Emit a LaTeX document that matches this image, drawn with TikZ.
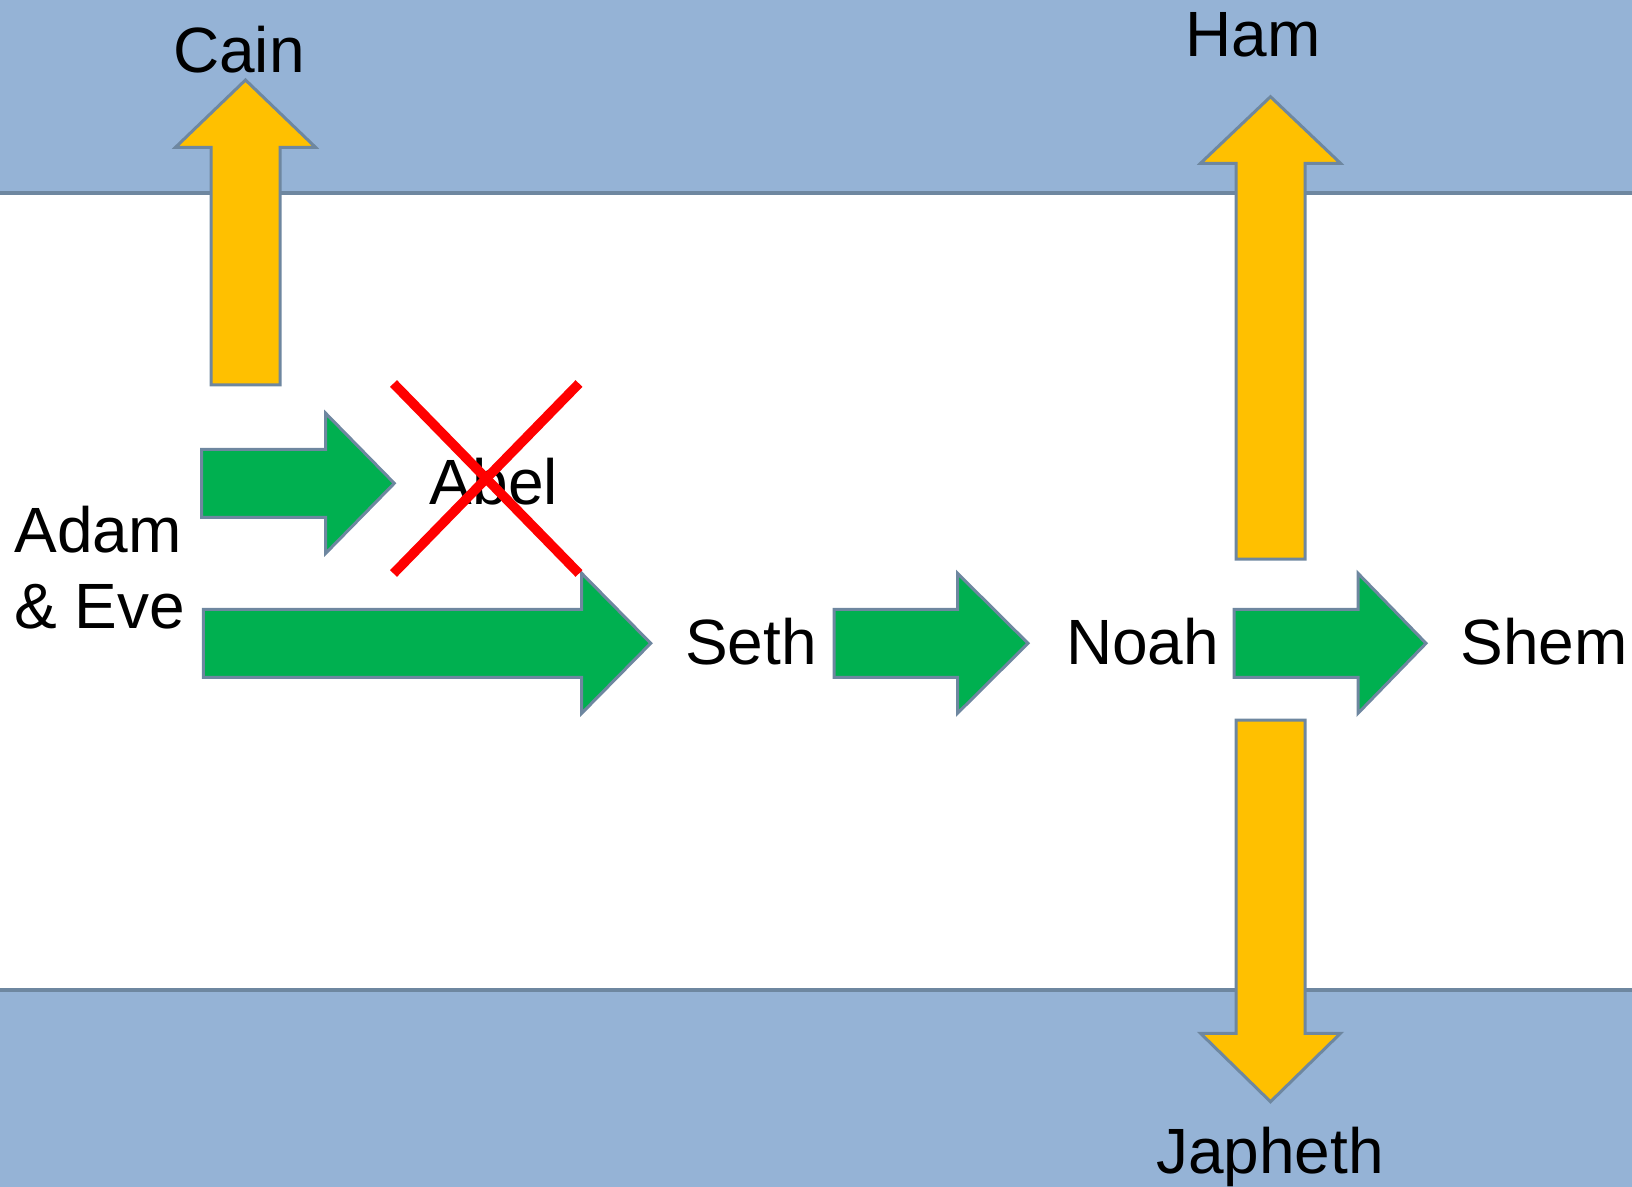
\documentclass[tikz,border=0pt]{standalone}
\usepackage{fontspec}
\setmainfont{Liberation Sans}
\definecolor{bandblue}{RGB}{149,179,214}
\definecolor{edgegray}{RGB}{110,135,160}
\definecolor{gold}{RGB}{255,192,0}
\definecolor{leafgreen}{RGB}{0,176,80}
\definecolor{crossred}{RGB}{255,0,0}
\tikzset{
  band/.style={fill=bandblue, draw=none},
  bandline/.style={draw=edgegray, line width=2pt},
  greenarrow/.style={fill=leafgreen, draw=edgegray, line width=1.5pt, line join=miter},
  goldarrow/.style={fill=gold, draw=edgegray, line width=1.5pt, line join=miter},
  crossline/.style={draw=crossred, line width=4.8pt},
  label/.style={inner sep=0pt, font=\fontsize{32}{38}\selectfont, text=black}
}
\begin{document}
\begin{tikzpicture}[x=0.5pt,y=-0.5pt]
\useasboundingbox (0,0) rectangle (1632,1187);
% bands
\fill[band] (0,0) rectangle (1632,193.5);
\fill[band] (0,990) rectangle (1632,1187);
\draw[bandline] (0,193.5) -- (1632,193.5);
\draw[bandline] (0,990) -- (1632,990);
% yellow arrows
\draw[goldarrow] (211,385) -- (211,147.3) -- (175.5,147.3) -- (245.5,80) -- (315.5,147.3) -- (280,147.3) -- (280,385) -- cycle;
\draw[goldarrow] (1236,559) -- (1236,163.3) -- (1200.5,163.3) -- (1270.5,96.7) -- (1340.5,163.3) -- (1305,163.3) -- (1305,559) -- cycle;
\draw[goldarrow] (1236,720) -- (1236,1033.3) -- (1200.5,1033.3) -- (1270.5,1101.7) -- (1340.5,1033.3) -- (1305,1033.3) -- (1305,720) -- cycle;
% green arrows
\draw[greenarrow] (201.7,449.3) -- (325.7,449.3) -- (325.7,413.3) -- (394.3,483.3) -- (325.7,553.3) -- (325.7,517.3) -- (201.7,517.3) -- cycle;
\draw[greenarrow] (203.3,609.3) -- (581.7,609.3) -- (581.7,573.3) -- (650.7,643.3) -- (581.7,713.3) -- (581.7,677.3) -- (203.3,677.3) -- cycle;
\draw[greenarrow] (834,609.3) -- (957.5,609.3) -- (957.5,573.3) -- (1028,643.3) -- (957.5,713.3) -- (957.5,677.3) -- (834,677.3) -- cycle;
\draw[greenarrow] (1234,609.3) -- (1358,609.3) -- (1358,573.3) -- (1426,643.3) -- (1358,713.3) -- (1358,677.3) -- (1234,677.3) -- cycle;
% labels
\node[label, anchor=base] (cain) at (239,73) {Cain};
\node[label, anchor=base] (ham) at (1253,57) {Ham};
\node[label, anchor=north west, align=left] (adam) at (14,506) {Adam\\\& Eve};
\node[label, anchor=base] (abel) at (494,504) {Abel};
\node[label, anchor=base] (seth) at (751,664) {Seth};
\node[label, anchor=base] (noah) at (1142.5,664) {Noah};
\node[label, anchor=base] (shem) at (1544,664) {Shem};
\node[label, anchor=base] (japheth) at (1270,1173) {Japheth};
% red cross
\coordinate (xa) at (393.5,383.5);
\coordinate (xb) at (579,573.5);
\coordinate (xc) at (579,383.5);
\coordinate (xd) at (393.5,573.5);
\draw[crossline] (xa) -- (xb);
\draw[crossline] (xc) -- (xd);
\end{tikzpicture}
\end{document}
